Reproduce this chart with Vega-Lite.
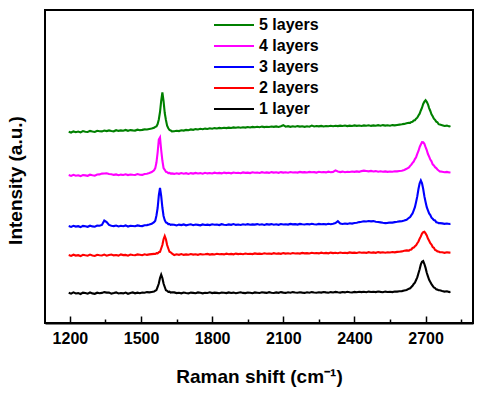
{
  "$schema": "https://vega.github.io/schema/vega-lite/v6.json",
  "autosize": {"type": "none"},
  "padding": {"left": 45, "top": 10, "right": 12, "bottom": 71},
  "width": 428,
  "height": 313,
  "background": "white",
  "config": {
    "font": "Liberation Sans",
    "view": {"stroke": "black", "strokeWidth": 2}
  },
  "data": {"values": [
{"x":1195,"a":30.2,"b":67.9,"c":96.9,"d":147.9,"e":191.3},
{"x":1205,"a":29.3,"b":67.1,"c":96.1,"d":147.1,"e":190.5},
{"x":1215,"a":30.6,"b":68.3,"c":97.2,"d":148.2,"e":191.6},
{"x":1225,"a":29.5,"b":67.4,"c":96.4,"d":147.3,"e":190.8},
{"x":1235,"a":29.9,"b":67.8,"c":96.8,"d":147.7,"e":191.4},
{"x":1245,"a":29.0,"b":66.9,"c":95.9,"d":146.9,"e":190.6},
{"x":1255,"a":30.4,"b":68.2,"c":97.1,"d":148.0,"e":191.9},
{"x":1265,"a":30.0,"b":67.7,"c":96.7,"d":147.6,"e":191.2},
{"x":1275,"a":29.3,"b":67.3,"c":96.2,"d":147.2,"e":191.0},
{"x":1285,"a":30.5,"b":68.4,"c":97.3,"d":148.3,"e":192.1},
{"x":1295,"a":29.6,"b":67.6,"c":96.6,"d":147.8,"e":191.5},
{"x":1305,"a":29.2,"b":67.0,"c":96.3,"d":147.4,"e":191.0},
{"x":1315,"a":30.3,"b":68.2,"c":97.4,"d":148.5,"e":192.2},
{"x":1325,"a":29.8,"b":67.8,"c":97.2,"d":148.6,"e":191.7},
{"x":1335,"a":30.1,"b":67.5,"c":98.0,"d":149.4,"e":191.6},
{"x":1345,"a":30.9,"b":68.4,"c":102.5,"d":149.5,"e":192.5},
{"x":1355,"a":30.4,"b":67.3,"c":101.0,"d":149.8,"e":191.9},
{"x":1365,"a":30.5,"b":68.1,"c":98.1,"d":149.0,"e":192.6},
{"x":1375,"a":29.4,"b":68.5,"c":97.3,"d":148.7,"e":192.0},
{"x":1385,"a":29.9,"b":67.6,"c":96.9,"d":148.1,"e":191.7},
{"x":1395,"a":30.6,"b":68.0,"c":97.5,"d":148.6,"e":192.8},
{"x":1405,"a":29.5,"b":67.4,"c":96.6,"d":147.8,"e":192.1},
{"x":1415,"a":30.0,"b":68.6,"c":97.2,"d":148.4,"e":192.6},
{"x":1425,"a":29.6,"b":67.9,"c":96.8,"d":148.0,"e":192.3},
{"x":1435,"a":30.4,"b":68.1,"c":97.6,"d":148.7,"e":193.1},
{"x":1445,"a":29.2,"b":67.3,"c":96.5,"d":147.9,"e":192.2},
{"x":1455,"a":30.1,"b":68.5,"c":97.3,"d":148.5,"e":192.9},
{"x":1465,"a":30.6,"b":68.0,"c":97.0,"d":148.2,"e":192.6},
{"x":1475,"a":29.7,"b":67.7,"c":96.7,"d":148.0,"e":192.4},
{"x":1485,"a":30.3,"b":68.6,"c":97.6,"d":148.9,"e":193.3},
{"x":1495,"a":29.8,"b":68.2,"c":97.1,"d":148.3,"e":192.8},
{"x":1505,"a":30.5,"b":67.8,"c":96.9,"d":148.1,"e":193.1},
{"x":1515,"a":30.2,"b":68.7,"c":97.8,"d":149.0,"e":193.6},
{"x":1525,"a":30.9,"b":68.1,"c":97.9,"d":149.3,"e":193.5},
{"x":1535,"a":30.6,"b":68.6,"c":98.5,"d":150.0,"e":194.0},
{"x":1545,"a":31.0,"b":68.9,"c":99.2,"d":150.9,"e":194.4},
{"x":1555,"a":31.4,"b":69.1,"c":100.9,"d":152.8,"e":195.2},
{"x":1560,"a":32.3,"b":69.0,"c":102.2,"d":154.9,"e":196.1},
{"x":1565,"a":32.9,"b":69.8,"c":107.5,"d":160.5,"e":196.6},
{"x":1570,"a":36.0,"b":69.6,"c":115.0,"d":170.5,"e":198.9},
{"x":1575,"a":39.5,"b":70.8,"c":127.5,"d":183.5,"e":203.5},
{"x":1580,"a":45.0,"b":71.2,"c":135.0,"d":185.6,"e":211.0},
{"x":1585,"a":48.3,"b":74.5,"c":127.0,"d":173.0,"e":222.0},
{"x":1590,"a":45.0,"b":78.0,"c":115.5,"d":162.5,"e":230.6},
{"x":1595,"a":39.5,"b":83.8,"c":107.0,"d":155.0,"e":222.0},
{"x":1600,"a":36.0,"b":87.0,"c":102.8,"d":153.2,"e":210.0},
{"x":1605,"a":32.7,"b":83.8,"c":100.5,"d":151.2,"e":203.0},
{"x":1610,"a":32.2,"b":78.0,"c":100.1,"d":150.9,"e":197.3},
{"x":1615,"a":31.1,"b":74.5,"c":98.9,"d":149.9,"e":194.7},
{"x":1620,"a":31.3,"b":71.2,"c":98.9,"d":150.1,"e":193.0},
{"x":1625,"a":30.4,"b":70.7,"c":98.2,"d":149.3,"e":192.5},
{"x":1630,"a":30.7,"b":69.6,"c":98.5,"d":149.6,"e":191.6},
{"x":1640,"a":30.6,"b":68.0,"c":98.3,"d":149.1,"e":191.8},
{"x":1650,"a":29.9,"b":68.7,"c":97.6,"d":149.7,"e":192.2},
{"x":1660,"a":30.3,"b":68.2,"c":98.4,"d":149.2,"e":191.9},
{"x":1670,"a":29.7,"b":68.9,"c":97.9,"d":149.9,"e":192.7},
{"x":1680,"a":30.5,"b":68.1,"c":98.6,"d":149.3,"e":192.4},
{"x":1690,"a":30.0,"b":68.6,"c":97.7,"d":149.8,"e":193.1},
{"x":1700,"a":29.6,"b":68.3,"c":98.2,"d":149.0,"e":192.8},
{"x":1710,"a":30.4,"b":69.0,"c":98.7,"d":149.9,"e":193.6},
{"x":1720,"a":30.1,"b":68.4,"c":97.8,"d":149.4,"e":193.2},
{"x":1730,"a":29.8,"b":68.8,"c":98.5,"d":150.1,"e":193.9},
{"x":1740,"a":30.6,"b":68.2,"c":98.1,"d":149.5,"e":193.5},
{"x":1750,"a":30.2,"b":68.9,"c":97.7,"d":149.9,"e":194.2},
{"x":1760,"a":29.7,"b":68.5,"c":98.6,"d":149.3,"e":193.8},
{"x":1770,"a":30.3,"b":68.7,"c":98.0,"d":150.2,"e":194.4},
{"x":1780,"a":30.0,"b":69.1,"c":98.4,"d":149.6,"e":194.0},
{"x":1790,"a":30.7,"b":68.4,"c":97.9,"d":150.0,"e":194.7},
{"x":1800,"a":29.9,"b":68.9,"c":98.7,"d":149.5,"e":194.3},
{"x":1810,"a":30.4,"b":68.5,"c":98.2,"d":150.3,"e":194.9},
{"x":1820,"a":30.1,"b":69.2,"c":98.5,"d":149.8,"e":194.5},
{"x":1830,"a":29.8,"b":68.7,"c":97.9,"d":150.1,"e":195.1},
{"x":1840,"a":30.5,"b":69.0,"c":98.8,"d":149.6,"e":194.7},
{"x":1850,"a":30.2,"b":68.6,"c":98.3,"d":150.4,"e":195.3},
{"x":1860,"a":29.9,"b":69.3,"c":98.0,"d":149.9,"e":194.9},
{"x":1870,"a":30.6,"b":68.8,"c":98.6,"d":150.2,"e":195.4},
{"x":1880,"a":30.0,"b":69.1,"c":98.2,"d":149.7,"e":195.0},
{"x":1890,"a":30.4,"b":68.7,"c":98.9,"d":150.5,"e":195.6},
{"x":1900,"a":29.8,"b":69.4,"c":98.1,"d":150.0,"e":195.2},
{"x":1910,"a":30.3,"b":68.9,"c":98.5,"d":150.3,"e":195.7},
{"x":1920,"a":30.7,"b":69.2,"c":98.0,"d":149.8,"e":195.3},
{"x":1930,"a":30.1,"b":68.8,"c":98.7,"d":150.6,"e":195.8},
{"x":1940,"a":29.9,"b":69.5,"c":98.3,"d":150.1,"e":195.4},
{"x":1950,"a":30.5,"b":69.0,"c":98.8,"d":150.4,"e":196.0},
{"x":1960,"a":30.2,"b":69.3,"c":98.2,"d":149.9,"e":195.5},
{"x":1970,"a":29.8,"b":68.9,"c":98.6,"d":150.7,"e":196.1},
{"x":1980,"a":30.6,"b":69.6,"c":98.4,"d":150.2,"e":195.7},
{"x":1990,"a":30.3,"b":69.1,"c":98.9,"d":150.5,"e":196.2},
{"x":2000,"a":30.0,"b":69.4,"c":98.3,"d":150.0,"e":195.8},
{"x":2010,"a":30.7,"b":69.0,"c":98.7,"d":150.8,"e":196.4},
{"x":2020,"a":30.4,"b":69.7,"c":98.1,"d":150.3,"e":195.9},
{"x":2030,"a":30.1,"b":69.2,"c":98.8,"d":150.6,"e":196.3},
{"x":2040,"a":30.8,"b":69.5,"c":98.4,"d":150.1,"e":196.0},
{"x":2050,"a":30.3,"b":69.1,"c":98.9,"d":150.9,"e":196.5},
{"x":2060,"a":30.0,"b":69.8,"c":98.3,"d":150.4,"e":196.1},
{"x":2070,"a":30.6,"b":69.3,"c":98.7,"d":150.7,"e":196.6},
{"x":2080,"a":30.2,"b":69.6,"c":98.2,"d":150.2,"e":196.0},
{"x":2090,"a":30.9,"b":69.2,"c":99.0,"d":150.9,"e":196.7},
{"x":2100,"a":30.4,"b":69.9,"c":98.5,"d":150.4,"e":197.8},
{"x":2110,"a":30.1,"b":69.4,"c":98.8,"d":150.8,"e":196.3},
{"x":2120,"a":30.7,"b":69.7,"c":98.4,"d":150.3,"e":196.8},
{"x":2130,"a":30.3,"b":69.3,"c":99.1,"d":151.0,"e":196.2},
{"x":2140,"a":30.9,"b":70.0,"c":98.6,"d":150.5,"e":196.7},
{"x":2150,"a":30.5,"b":69.5,"c":98.9,"d":150.8,"e":196.3},
{"x":2160,"a":30.2,"b":69.8,"c":98.4,"d":150.4,"e":196.9},
{"x":2170,"a":30.8,"b":69.4,"c":99.1,"d":151.1,"e":196.4},
{"x":2180,"a":30.4,"b":70.1,"c":98.7,"d":150.6,"e":196.8},
{"x":2190,"a":30.1,"b":69.6,"c":98.5,"d":150.9,"e":196.2},
{"x":2200,"a":30.7,"b":69.9,"c":99.0,"d":150.5,"e":196.7},
{"x":2210,"a":30.3,"b":69.5,"c":98.6,"d":151.1,"e":196.3},
{"x":2220,"a":30.9,"b":70.2,"c":99.2,"d":150.7,"e":197.4},
{"x":2230,"a":30.5,"b":69.7,"c":98.8,"d":150.9,"e":196.5},
{"x":2240,"a":30.2,"b":70.0,"c":98.5,"d":150.4,"e":197.0},
{"x":2250,"a":30.8,"b":69.6,"c":99.1,"d":151.2,"e":196.6},
{"x":2260,"a":30.4,"b":70.3,"c":98.7,"d":150.7,"e":197.1},
{"x":2270,"a":31.0,"b":69.8,"c":99.0,"d":151.0,"e":196.5},
{"x":2280,"a":30.6,"b":70.1,"c":98.6,"d":150.6,"e":197.0},
{"x":2290,"a":30.3,"b":69.7,"c":99.2,"d":151.3,"e":196.7},
{"x":2300,"a":30.9,"b":70.4,"c":98.8,"d":150.8,"e":197.2},
{"x":2310,"a":30.5,"b":69.9,"c":99.3,"d":151.1,"e":196.8},
{"x":2320,"a":31.1,"b":70.2,"c":100.0,"d":152.6,"e":197.3},
{"x":2330,"a":30.7,"b":69.8,"c":101.8,"d":151.5,"e":196.9},
{"x":2340,"a":30.4,"b":70.5,"c":99.4,"d":150.9,"e":197.4},
{"x":2350,"a":31.0,"b":70.0,"c":99.0,"d":151.4,"e":197.0},
{"x":2360,"a":30.6,"b":70.3,"c":99.5,"d":150.8,"e":197.5},
{"x":2370,"a":31.2,"b":69.9,"c":99.1,"d":151.3,"e":196.9},
{"x":2380,"a":30.8,"b":70.6,"c":99.7,"d":151.0,"e":197.4},
{"x":2390,"a":30.5,"b":70.1,"c":99.4,"d":151.5,"e":197.0},
{"x":2400,"a":31.1,"b":70.4,"c":100.0,"d":151.1,"e":197.6},
{"x":2410,"a":30.7,"b":70.0,"c":100.3,"d":151.6,"e":197.1},
{"x":2420,"a":31.3,"b":70.7,"c":100.9,"d":151.2,"e":197.5},
{"x":2430,"a":30.9,"b":70.2,"c":101.2,"d":151.9,"e":197.0},
{"x":2440,"a":31.2,"b":70.5,"c":101.8,"d":152.4,"e":197.6},
{"x":2450,"a":30.8,"b":70.1,"c":101.5,"d":152.0,"e":197.2},
{"x":2460,"a":31.4,"b":70.8,"c":102.0,"d":151.6,"e":197.7},
{"x":2470,"a":31.0,"b":70.3,"c":101.6,"d":152.1,"e":197.1},
{"x":2480,"a":31.3,"b":70.6,"c":101.9,"d":151.5,"e":197.6},
{"x":2490,"a":30.9,"b":70.2,"c":101.3,"d":151.9,"e":197.2},
{"x":2500,"a":31.5,"b":70.9,"c":101.0,"d":151.3,"e":197.8},
{"x":2510,"a":31.1,"b":70.4,"c":100.6,"d":151.7,"e":197.3},
{"x":2520,"a":30.8,"b":70.7,"c":100.2,"d":151.2,"e":197.9},
{"x":2530,"a":31.4,"b":70.3,"c":99.9,"d":151.6,"e":197.4},
{"x":2540,"a":31.0,"b":70.8,"c":100.1,"d":151.1,"e":197.8},
{"x":2550,"a":31.3,"b":70.5,"c":100.5,"d":151.5,"e":197.3},
{"x":2560,"a":30.9,"b":71.0,"c":100.4,"d":151.3,"e":197.9},
{"x":2570,"a":31.5,"b":70.6,"c":100.9,"d":151.8,"e":197.6},
{"x":2580,"a":31.4,"b":71.1,"c":101.2,"d":151.6,"e":198.0},
{"x":2590,"a":31.8,"b":71.3,"c":101.6,"d":152.0,"e":198.4},
{"x":2600,"a":31.9,"b":71.6,"c":101.8,"d":152.3,"e":198.7},
{"x":2610,"a":32.5,"b":72.2,"c":102.4,"d":153.1,"e":199.1},
{"x":2620,"a":33.0,"b":72.6,"c":103.2,"d":154.2,"e":199.7},
{"x":2630,"a":34.3,"b":72.4,"c":105.2,"d":155.6,"e":200.3},
{"x":2635,"a":34.7,"b":73.3,"c":106.0,"d":157.1,"e":200.2},
{"x":2640,"a":36.0,"b":73.5,"c":107.9,"d":158.4,"e":201.1},
{"x":2645,"a":37.2,"b":75.0,"c":109.5,"d":160.2,"e":201.3},
{"x":2650,"a":39.0,"b":75.4,"c":112.6,"d":161.4,"e":202.5},
{"x":2655,"a":40.3,"b":76.8,"c":115.8,"d":163.9,"e":202.8},
{"x":2660,"a":43.0,"b":77.8,"c":121.0,"d":165.8,"e":204.3},
{"x":2665,"a":45.6,"b":79.8,"c":126.6,"d":169.1,"e":205.3},
{"x":2670,"a":49.8,"b":81.5,"c":134.0,"d":172.0,"e":207.5},
{"x":2675,"a":53.8,"b":84.3,"c":139.7,"d":175.9,"e":209.3},
{"x":2680,"a":58.6,"b":86.6,"c":142.6,"d":178.5,"e":212.5},
{"x":2685,"a":61.2,"b":89.5,"c":139.7,"d":180.9,"e":215.3},
{"x":2690,"a":61.9,"b":90.8,"c":134.0,"d":180.7,"e":219.0},
{"x":2695,"a":59.0,"b":91.3,"c":126.6,"d":179.2,"e":221.3},
{"x":2700,"a":55.1,"b":89.6,"c":121.0,"d":175.8,"e":222.7},
{"x":2705,"a":50.2,"b":87.6,"c":115.8,"d":172.8,"e":221.1},
{"x":2710,"a":46.7,"b":84.5,"c":112.6,"d":169.0,"e":218.7},
{"x":2715,"a":43.2,"b":82.3,"c":109.5,"d":166.4,"e":214.9},
{"x":2720,"a":41.1,"b":79.8,"c":107.9,"d":163.4,"e":212.0},
{"x":2725,"a":38.9,"b":78.5,"c":105.3,"d":161.7,"e":208.7},
{"x":2730,"a":37.2,"b":76.0,"c":104.3,"d":158.7,"e":206.8},
{"x":2735,"a":35.5,"b":75.2,"c":102.9,"d":157.5,"e":204.4},
{"x":2740,"a":35.0,"b":73.0,"c":102.5,"d":155.8,"e":203.1},
{"x":2745,"a":33.6,"b":72.6,"c":100.8,"d":154.9,"e":201.4},
{"x":2750,"a":33.4,"b":71.6,"c":100.6,"d":153.5,"e":200.7},
{"x":2755,"a":32.7,"b":71.5,"c":99.8,"d":152.5,"e":198.8},
{"x":2760,"a":32.7,"b":70.8,"c":99.9,"d":151.6,"e":198.5},
{"x":2770,"a":32.0,"b":70.7,"c":99.6,"d":151.3,"e":197.8},
{"x":2780,"a":31.4,"b":70.2,"c":99.1,"d":150.8,"e":197.0},
{"x":2790,"a":31.7,"b":70.8,"c":99.5,"d":151.1,"e":197.4},
{"x":2800,"a":30.9,"b":70.4,"c":99.0,"d":150.5,"e":196.6},
{"x":2805,"a":31.2,"b":70.5,"c":99.3,"d":150.7,"e":196.9}
  ]},
  "transform": [{"fold": ["a", "b", "c", "d", "e"], "as": ["s", "y"]}],
  "mark": {"type": "line", "strokeWidth": 2.1, "interpolate": "linear"},
  "encoding": {
    "x": {
      "field": "x", "type": "quantitative",
      "scale": {"domain": [1095, 2900], "nice": false, "zero": false},
      "axis": {
        "title": "Raman shift (cm⁻¹)",
        "titleFontSize": 19, "titleFontWeight": "bold", "titleColor": "black",
        "titleY": 59, "titleBaseline": "alphabetic",
        "values": [1200, 1350, 1500, 1650, 1800, 1950, 2100, 2250, 2400, 2550, 2700, 2850],
        "labelExpr": "datum.value % 300 === 0 ? datum.label : ''",
        "format": "d",
        "labelFontSize": 16, "labelFontWeight": "bold", "labelColor": "black",
        "labelPadding": 14,
        "tickColor": "black", "tickWidth": 1.5,
        "tickSize": {"condition": {"test": "datum.value % 300 === 0", "value": -7}, "value": -4},
        "domainColor": "black", "domainWidth": 2,
        "grid": false
      }
    },
    "y": {
      "field": "y", "type": "quantitative",
      "scale": {"domain": [0, 313], "nice": false, "zero": false},
      "axis": {
        "title": "Intensity (a.u.)",
        "titleFontSize": 19, "titleFontWeight": "bold", "titleColor": "black",
        "titleX": -20, "titleY": 170, "titleAngle": 270, "titleBaseline": "bottom",
        "labels": false, "ticks": false, "domain": false, "grid": false
      }
    },
    "color": {
      "field": "s", "type": "nominal",
      "scale": {"domain": ["e", "d", "c", "b", "a"], "range": ["#008000", "#ff00ff", "#0000ff", "#ff0000", "#000000"]},
      "legend": {
        "title": null,
        "orient": "none", "legendX": 178, "legendY": 4,
        "symbolType": "M-2,0H2", "symbolSize": 400, "symbolStrokeWidth": 2,
        "labelFontSize": 16, "labelFontWeight": "bold", "labelColor": "black",
        "labelOffset": 14, "rowPadding": 2,
        "labelExpr": "datum.label == 'a' ? '1 layer' : datum.label == 'b' ? '2 layers' : datum.label == 'c' ? '3 layers' : datum.label == 'd' ? '4 layers' : '5 layers'"
      }
    }
  }
}
